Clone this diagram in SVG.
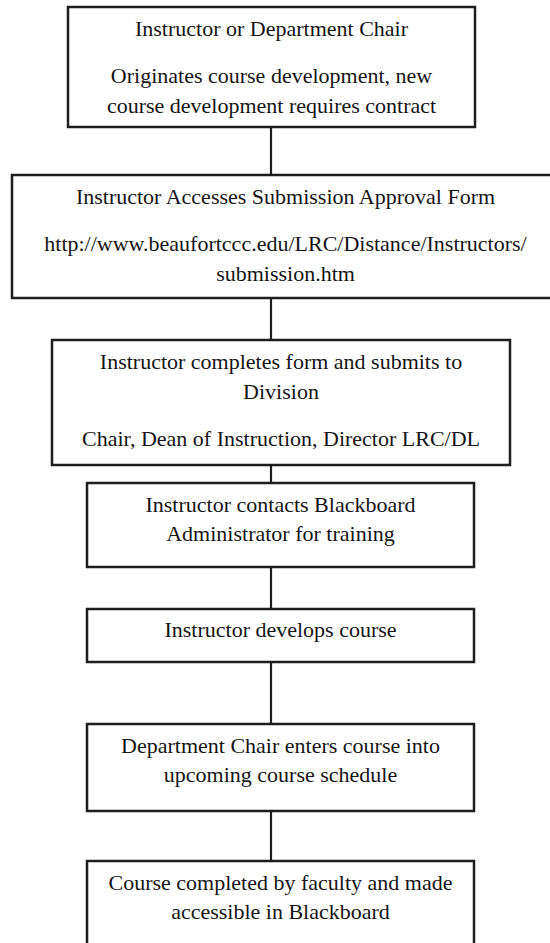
<svg xmlns="http://www.w3.org/2000/svg" width="550" height="943" viewBox="0 0 550 943">
<style>
.box{fill:#fff;stroke:#1e1e1e;stroke-width:2.5}
.t{font-family:"Liberation Serif","Times New Roman","DejaVu Serif",serif;font-size:22px;fill:#151515;text-anchor:middle}
.c{stroke:#1e1e1e;stroke-width:2.2;fill:none}
</style>
<rect width="550" height="943" fill="#fff"/>
<g id="connectors">
<line class="c" x1="271" y1="127" x2="271" y2="175"/>
<line class="c" x1="271" y1="298" x2="271" y2="340"/>
<line class="c" x1="271" y1="465" x2="271" y2="483"/>
<line class="c" x1="271" y1="567" x2="271" y2="609"/>
<line class="c" x1="271" y1="662" x2="271" y2="724"/>
<line class="c" x1="271" y1="811" x2="271" y2="861"/>
</g>
<g id="node1">
<rect class="box" x="68" y="7" width="407" height="120"/>
<text class="t" x="271.5" y="36">Instructor or Department Chair</text>
<text class="t" x="271.5" y="83">Originates course development, new</text>
<text class="t" x="271.5" y="113">course development requires contract</text>
</g>
<g id="node2">
<rect class="box" x="12" y="175" width="547" height="123"/>
<text class="t" x="285.5" y="204">Instructor Accesses Submission Approval Form</text>
<text class="t" x="285.5" y="251">http://www.beaufortccc.edu/LRC/Distance/Instructors/</text>
<text class="t" x="285.5" y="281">submission.htm</text>
</g>
<g id="node3">
<rect class="box" x="52" y="340" width="458" height="125"/>
<text class="t" x="281" y="369">Instructor completes form and submits to</text>
<text class="t" x="281" y="399">Division</text>
<text class="t" x="281" y="446">Chair, Dean of Instruction, Director LRC/DL</text>
</g>
<g id="node4">
<rect class="box" x="87" y="483" width="387" height="84"/>
<text class="t" x="280.5" y="512">Instructor contacts Blackboard</text>
<text class="t" x="280.5" y="541">Administrator for training</text>
</g>
<g id="node5">
<rect class="box" x="87" y="609" width="387" height="53"/>
<text class="t" x="280.5" y="637">Instructor develops course</text>
</g>
<g id="node6">
<rect class="box" x="87" y="724" width="387" height="87"/>
<text class="t" x="280.5" y="753">Department Chair enters course into</text>
<text class="t" x="280.5" y="782">upcoming course schedule</text>
</g>
<g id="node7">
<rect class="box" x="87" y="861" width="387" height="100"/>
<text class="t" x="280.5" y="890">Course completed by faculty and made</text>
<text class="t" x="280.5" y="919">accessible in Blackboard</text>
</g>
</svg>
